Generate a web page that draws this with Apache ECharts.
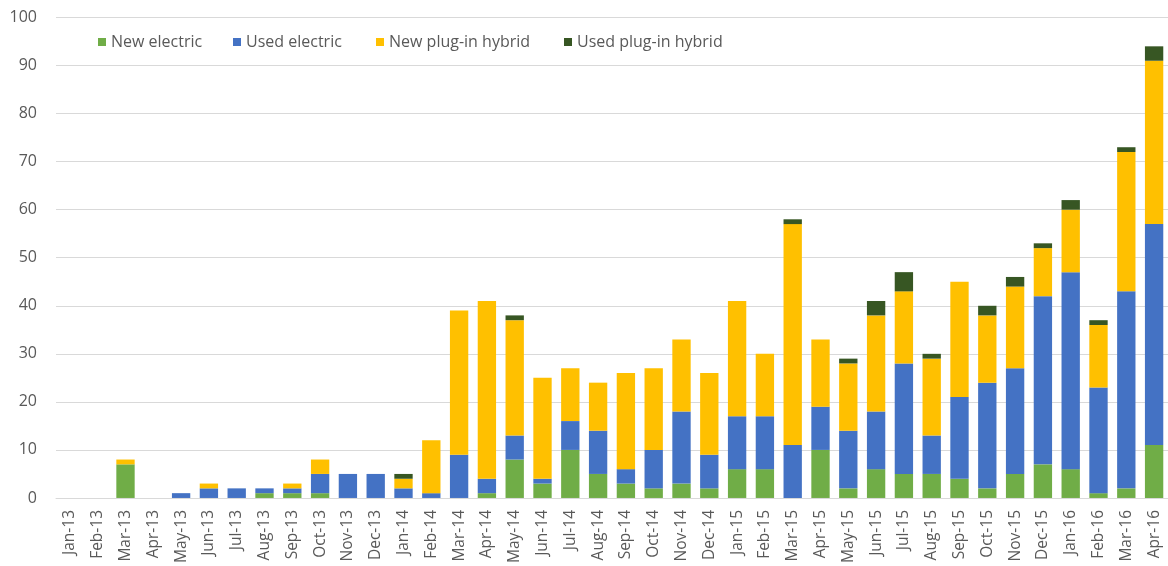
<!DOCTYPE html>
<html>
<head>
<meta charset="utf-8">
<script src="https://cdn.jsdelivr.net/npm/echarts@6/dist/echarts.min.js"></script>
<style>
html,body{margin:0;padding:0;background:#fff;}
#chart{width:1168px;height:566px;}
</style>
</head>
<body>
<div id="chart"></div>
<script>
const categories = ["Jan-13","Feb-13","Mar-13","Apr-13","May-13","Jun-13","Jul-13","Aug-13","Sep-13","Oct-13","Nov-13","Dec-13",
"Jan-14","Feb-14","Mar-14","Apr-14","May-14","Jun-14","Jul-14","Aug-14","Sep-14","Oct-14","Nov-14","Dec-14",
"Jan-15","Feb-15","Mar-15","Apr-15","May-15","Jun-15","Jul-15","Aug-15","Sep-15","Oct-15","Nov-15","Dec-15",
"Jan-16","Feb-16","Mar-16","Apr-16"];
const newElectric = [0,0,7,0,0,0,0,1,1,1,0,0, 0,0,0,1,8,3,10,5,3,2,3,2, 6,6,0,10,2,6,5,5,4,2,5,7, 6,1,2,11];
const usedElectric = [0,0,0,0,1,2,2,1,1,4,5,5, 2,1,9,3,5,1,6,9,3,8,15,7, 11,11,11,9,12,12,23,8,17,22,22,35, 41,22,41,46];
const newPlugInHybrid = [0,0,1,0,0,1,0,0,1,3,0,0, 2,11,30,37,24,21,11,10,20,17,15,17, 24,13,46,14,14,20,15,16,24,14,17,10, 13,13,29,34];
const usedPlugInHybrid = [0,0,0,0,0,0,0,0,0,0,0,0, 1,0,0,0,1,0,0,0,0,0,0,0, 0,0,1,0,1,3,4,1,0,2,2,1, 2,1,1,3];
const seriesNames = ["New electric","Used electric","New plug-in hybrid","Used plug-in hybrid"];
const seriesColors = ["#70AD47","#4472C4","#FFC000","#375623"];
const seriesData = [newElectric, usedElectric, newPlugInHybrid, usedPlugInHybrid];
const legendLefts = [93, 228, 371, 559];

const chart = echarts.init(document.getElementById('chart'));
const textColor = '#595959';
const font = '"Open Sans", sans-serif';
chart.setOption({
  animation: false,
  textStyle: {fontFamily: font},
  legend: seriesNames.map((n, i) => ({
    data: [n], left: legendLefts[i], top: 29,
    itemWidth: 8, itemHeight: 8, itemGap: 0,
    icon: 'rect',
    textStyle: {color: textColor, fontSize: 16, fontFamily: font}
  })),
  grid: {left: 56, right: -1, top: 17.5, bottom: 68},
  xAxis: {
    type: 'category', data: categories,
    axisLine: {lineStyle: {color: '#d9d9d9'}},
    axisTick: {show: false},
    axisLabel: {rotate: 90, interval: 0, color: textColor, fontSize: 15.5, margin: 12, fontFamily: font}
  },
  yAxis: {
    type: 'value', min: 0, max: 100, interval: 10,
    axisLine: {show: false}, axisTick: {show: false},
    splitLine: {lineStyle: {color: '#d9d9d9'}},
    axisLabel: {color: textColor, fontSize: 16, margin: 19, fontFamily: font}
  },
  series: seriesNames.map((n, i) => ({
    name: n, type: 'bar', stack: 'total', data: seriesData[i],
    barCategoryGap: '34%',
    itemStyle: {color: seriesColors[i]}
  }))
});
</script>
</body>
</html>
